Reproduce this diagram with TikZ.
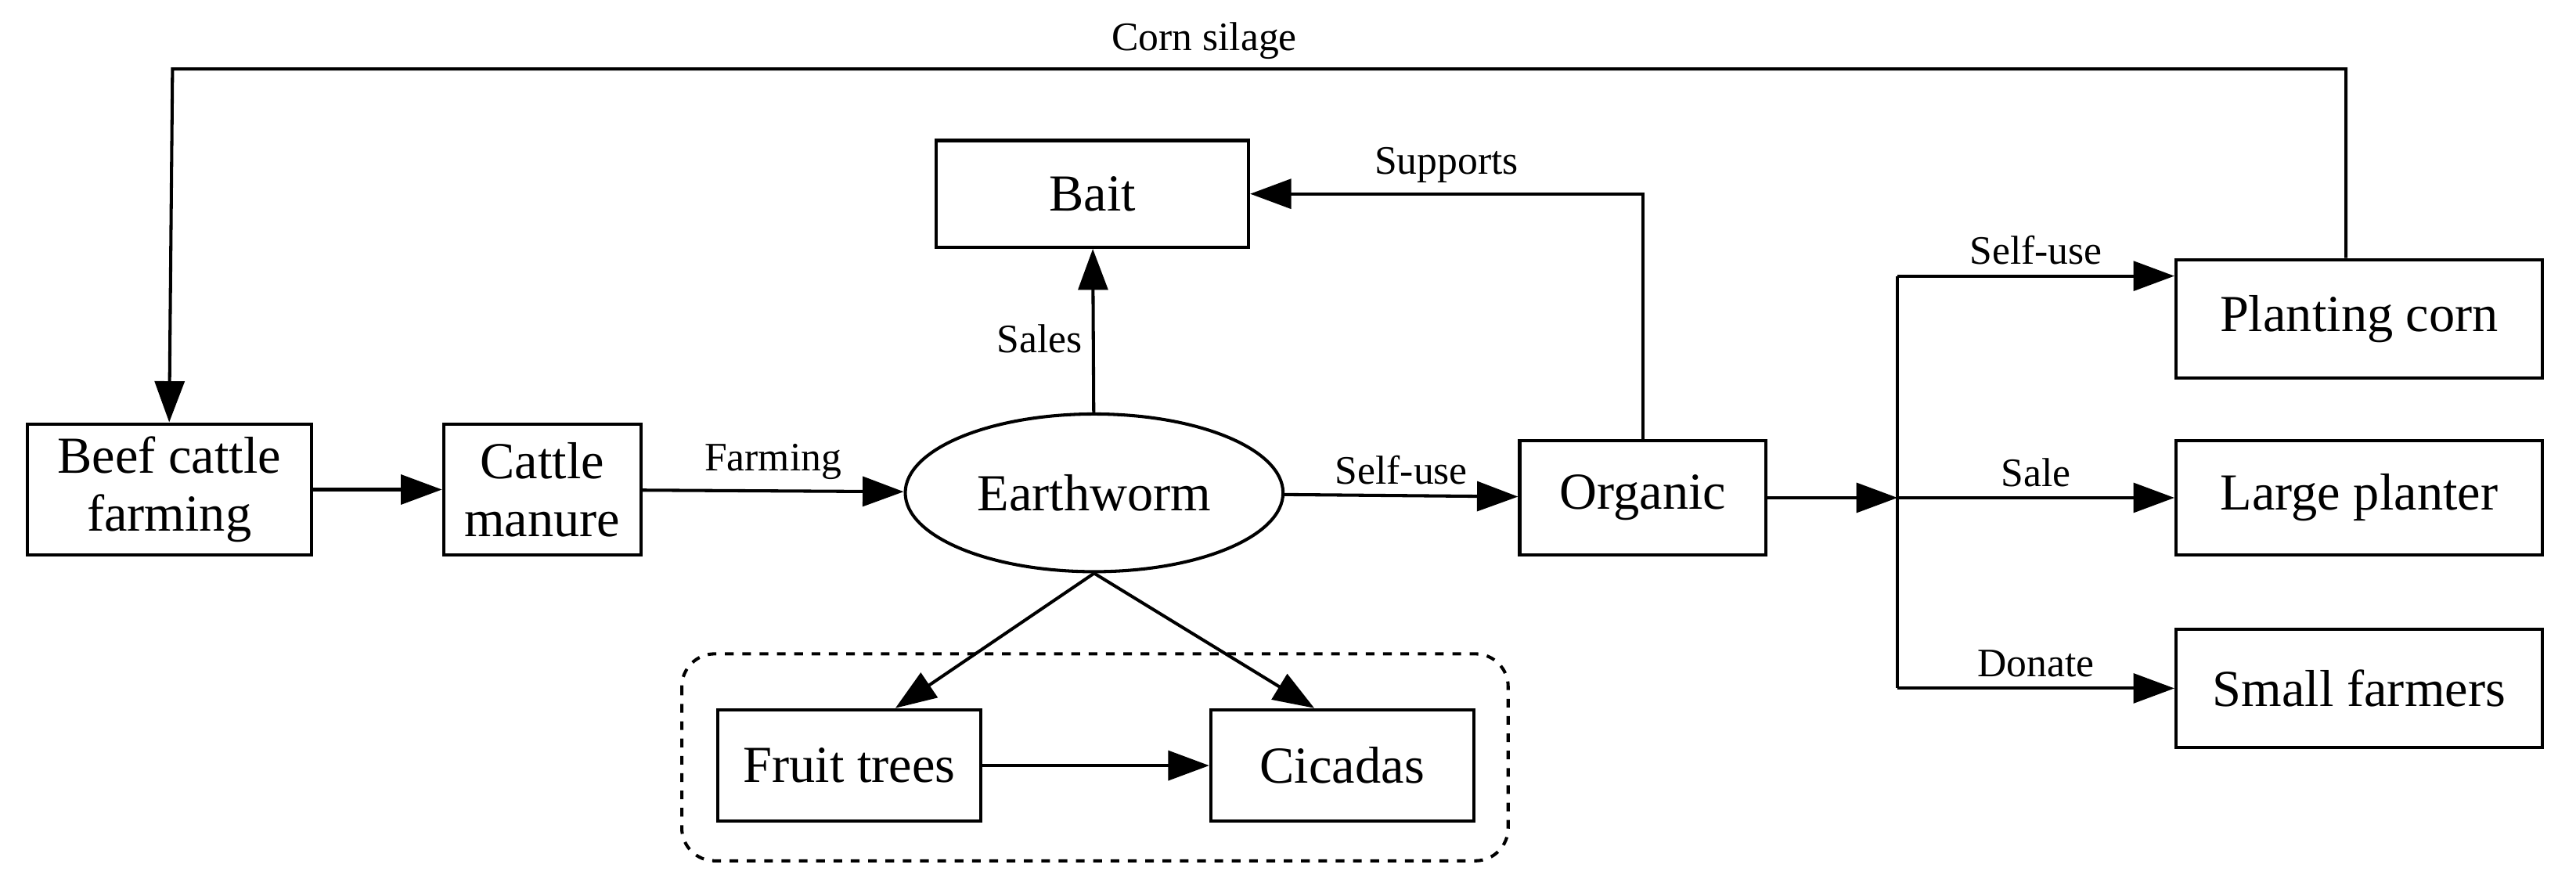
\documentclass[tikz,border=0pt]{standalone}
\usepackage{fontspec}
\setmainfont{Liberation Serif}
\usetikzlibrary{arrows.meta,calc,shapes.geometric}
\tikzset{
  box/.style={draw,line width=1.1pt,align=center,inner sep=2pt,font=\fontsize{18}{20}\selectfont},
  lbl/.style={font=\fontsize{14}{16}\selectfont},
  arr/.style={line width=1.1pt,-{Triangle[length=0.5cm,width=0.36cm]}}
}
\begin{document}
\begin{tikzpicture}[x=0.02cm,y=-0.02cm]
\useasboundingbox (0,0) rectangle (1568,539);
% boxes
\node[box,minimum width=3.46cm,minimum height=1.6cm] (beef) at (103,298) {Beef cattle\\farming};
\node[box,minimum width=2.4cm,minimum height=1.6cm] (manure) at (330,298) {Cattle\\manure};
\node[draw,line width=1.1pt,ellipse,inner sep=0pt,minimum width=4.6cm,minimum height=1.92cm,font=\fontsize{18}{20}\selectfont] (worm) at (666,300) {Earthworm};
\node[box,minimum width=3.8cm,minimum height=1.3cm] (bait) at (665,118) {Bait};
\node[box,minimum width=3cm,minimum height=1.4cm] (organic) at (1000,303) {Organic};
\node[box,minimum width=4.46cm,minimum height=1.44cm] (corn) at (1436,194) {Planting corn};
\node[box,minimum width=4.46cm,minimum height=1.4cm] (large) at (1436,303) {Large planter};
\node[box,minimum width=4.46cm,minimum height=1.44cm] (small) at (1436,419) {Small farmers};
\node[box,minimum width=3.2cm,minimum height=1.36cm] (fruit) at (517,466) {Fruit trees};
\node[box,minimum width=3.2cm,minimum height=1.36cm] (cicada) at (817,466) {Cicadas};
\draw[line width=1.1pt,dashed,rounded corners=0.4cm] (415,398) rectangle (918,524);
% main chain
\draw[arr] (beef) -- (manure);
\draw[arr] (manure) -- node[lbl,above]{Farming} (worm);
\draw[arr] (worm) -- node[lbl,above]{Self-use} (organic);
\draw[arr] (worm) -- node[lbl,left,pos=0.45]{Sales} (bait);
\draw[arr] (organic.north) |- node[lbl,above,pos=0.75]{Supports} (bait.east);
\draw[arr] ($(corn.north)+(-8,0)$) |- (105,42) -- (beef.north);
\node[lbl] (silage) at (733,25) {Corn silage};
% distribution
\coordinate (split) at (1155,303);
\draw[arr] (organic) -- (split);
\draw[line width=1.1pt] (1155,168) -- (1155,419);
\draw[arr] (1155,168) -- node[lbl,above]{Self-use} (corn.west |- 0,168);
\draw[arr] (split) -- node[lbl,above]{Sale} (large);
\draw[arr] (1155,419) -- node[lbl,above]{Donate} (small);
% lower part
\draw[arr] (worm.south) -- ($(fruit.north)+(28,0)$);
\draw[arr] (worm.south) -- ($(cicada.north)+(-17,0)$);
\draw[arr] (fruit) -- (cicada);
\end{tikzpicture}
\end{document}
